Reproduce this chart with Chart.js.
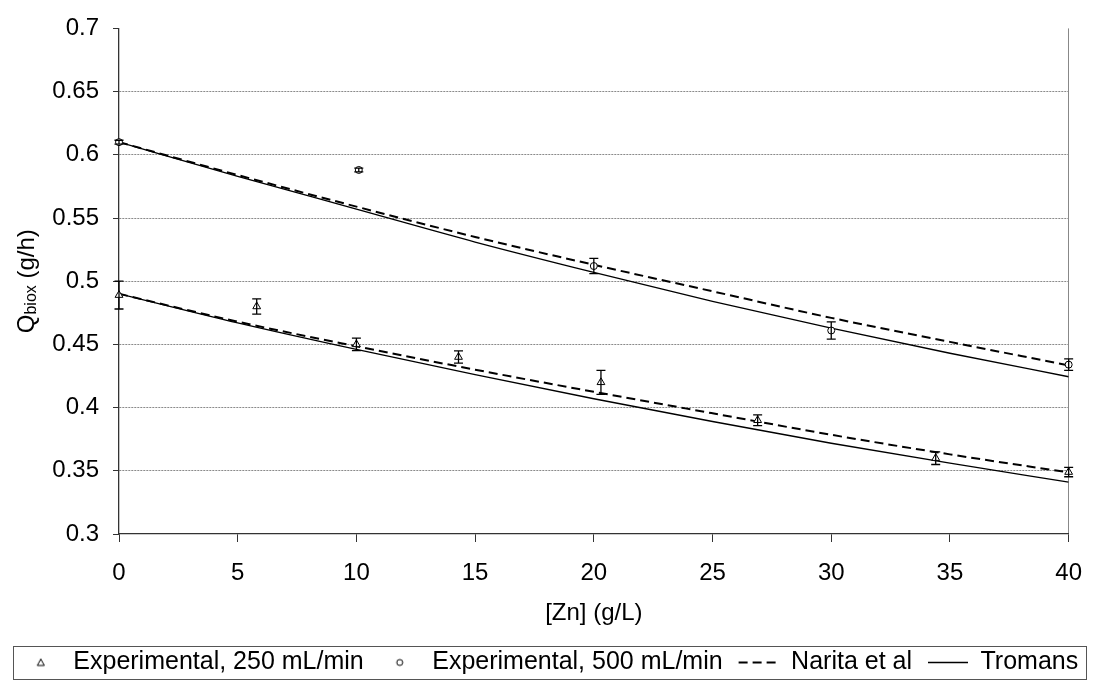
<!DOCTYPE html>
<html lang="en">
<head>
<meta charset="UTF-8">
<title>Qbiox vs [Zn]</title>
<script src="https://cdn.jsdelivr.net/npm/chart.js"></script>
<style>
  body { margin: 0; background: #fff; }
  #wrap { width: 1099px; height: 680px; }
</style>
</head>
<body>
<div id="wrap"><canvas id="znChart" width="1099" height="680"></canvas></div>
<script>
// model curves
const znLine = [0, 5, 10, 15, 20, 25, 30, 35, 40];
const naritaHigh = [0.61, 0.584, 0.559, 0.535, 0.513, 0.492, 0.471, 0.452, 0.4334];
const tromansHigh = [0.61, 0.583, 0.557, 0.531, 0.507, 0.484, 0.4628, 0.443, 0.4244];
const naritaLow = [0.49, 0.468, 0.4485, 0.430, 0.4125, 0.3955, 0.3785, 0.363, 0.3487];
const tromansLow = [0.49, 0.467, 0.446, 0.426, 0.407, 0.389, 0.3718, 0.356, 0.341];

// experimental points
const zn250 = [0, 5.8, 10, 14.3, 20.3, 26.9, 34.4, 40];
const q250 = [0.489, 0.48, 0.45, 0.44, 0.42, 0.39, 0.36, 0.349];
const err250 = [0.011, 0.006, 0.005, 0.0048, 0.0095, 0.0042, 0.005, 0.0037];
const zn500 = [0, 10.1, 20, 30, 40];
const q500 = [0.61, 0.588, 0.512, 0.461, 0.434];
const err500 = [0.0015, 0.0015, 0.006, 0.0068, 0.0046];

const FONT = '"Liberation Sans", Arial, sans-serif';
Chart.defaults.font.family = FONT;
Chart.defaults.color = '#000';

const pts = (xs, ys) => xs.map((v, i) => ({ x: v, y: ys[i] }));

// small marker icons for the legend (so the line samples can be wider)
function legendIcon(kind) {
  const c = document.createElement('canvas');
  c.width = 10; c.height = 10;
  const g = c.getContext('2d');
  g.strokeStyle = '#000';
  g.lineWidth = 1;
  g.beginPath();
  if (kind === 'triangle') {
    g.moveTo(5, 1.5); g.lineTo(8.5, 8); g.lineTo(1.5, 8); g.closePath();
  } else {
    g.arc(5, 5, 3, 0, Math.PI * 2);
  }
  g.stroke();
  return c;
}

const errorBars = {
  id: 'errorBars',
  afterDatasetsDraw(chart) {
    const { ctx, scales: { x, y } } = chart;
    ctx.save();
    ctx.strokeStyle = '#000';
    ctx.lineWidth = 1.3;
    [[zn250, q250, err250], [zn500, q500, err500]].forEach(([xs, ys, es]) => {
      xs.forEach((v, i) => {
        const px = x.getPixelForValue(v);
        const top = y.getPixelForValue(ys[i] + es[i]);
        const bot = y.getPixelForValue(ys[i] - es[i]);
        ctx.beginPath();
        ctx.moveTo(px, top); ctx.lineTo(px, bot);
        ctx.moveTo(px - 4.5, top); ctx.lineTo(px + 4.5, top);
        ctx.moveTo(px - 4.5, bot); ctx.lineTo(px + 4.5, bot);
        ctx.stroke();
      });
    });
    ctx.restore();
  }
};

// y title with subscript
const yTitle = {
  id: 'yTitle',
  afterDraw(chart) {
    const { ctx, chartArea } = chart;
    const cy = (chartArea.top + chartArea.bottom) / 2;
    const big = '24px ' + FONT, small = '16px ' + FONT;
    ctx.save();
    ctx.translate(27, cy);
    ctx.rotate(-Math.PI / 2);
    ctx.fillStyle = '#000';
    ctx.textBaseline = 'middle';
    ctx.font = big;
    const wQ = ctx.measureText('Q').width;
    const wU = ctx.measureText(' (g/h)').width;
    ctx.font = small;
    const wS = ctx.measureText('biox').width;
    const x0 = -(wQ + wS + wU) / 2;
    ctx.font = big; ctx.fillText('Q', x0, 0);
    ctx.font = small; ctx.fillText('biox', x0 + wQ, 5);
    ctx.font = big; ctx.fillText(' (g/h)', x0 + wQ + wS, 0);
    ctx.restore();
  }
};

// frame round the legend
const legendFrame = {
  id: 'legendFrame',
  afterDraw(chart) {
    const boxes = chart.legend.legendHitBoxes;
    if (!boxes || !boxes.length) return;
    const first = boxes[0], last = boxes[boxes.length - 1];
    const cy = first.top + first.height / 2;
    const left = first.left - 8, right = last.left + last.width + 8;
    const { ctx } = chart;
    ctx.save();
    ctx.strokeStyle = '#555';
    ctx.lineWidth = 1;
    ctx.strokeRect(Math.round(left) + 0.5, Math.round(cy - 16.5) + 0.5, Math.round(right - left), 33);
    ctx.restore();
  }
};

new Chart(document.getElementById('znChart'), {
  type: 'scatter',
  data: {
    datasets: [
      { label: 'Experimental, 250 mL/min', data: pts(zn250, q250), pointStyle: 'triangle',
        pointRadius: 4.5, borderColor: '#000', backgroundColor: '#fff', borderWidth: 1, clip: false,
        legendIcon: legendIcon('triangle') },
      { label: 'Experimental, 500 mL/min', data: pts(zn500, q500), pointStyle: 'circle',
        pointRadius: 3.5, borderColor: '#000', backgroundColor: '#fff', borderWidth: 1, clip: false,
        legendIcon: legendIcon('circle') },
      { label: 'Narita et al', data: pts(znLine, naritaHigh), showLine: true, pointRadius: 0,
        pointStyle: 'line', borderColor: '#000', borderWidth: 2, borderDash: [9, 5],
        cubicInterpolationMode: 'monotone' },
      { label: 'Tromans', data: pts(znLine, tromansHigh), showLine: true, pointRadius: 0,
        pointStyle: 'line', borderColor: '#000', borderWidth: 1.3, cubicInterpolationMode: 'monotone' },
      { label: 'Narita et al', data: pts(znLine, naritaLow), showLine: true, pointRadius: 0,
        pointStyle: 'line', borderColor: '#000', borderWidth: 2, borderDash: [9, 5],
        cubicInterpolationMode: 'monotone', hideLegend: true },
      { label: 'Tromans', data: pts(znLine, tromansLow), showLine: true, pointRadius: 0,
        pointStyle: 'line', borderColor: '#000', borderWidth: 1.3,
        cubicInterpolationMode: 'monotone', hideLegend: true }
    ]
  },
  options: {
    responsive: false,
    animation: false,
    layout: { padding: { top: 24, right: 0, bottom: 0, left: 0 } },
    plugins: {
      tooltip: { enabled: false },
      legend: {
        position: 'bottom',
        maxHeight: 46,
        labels: {
          usePointStyle: true,
          pointStyleWidth: 40,
          boxHeight: 6,
          padding: 16,
          color: '#000',
          font: { size: 25 },
          generateLabels: chart => {
            const items = Chart.defaults.plugins.legend.labels.generateLabels(chart);
            items.forEach(it => {
              const ds = chart.data.datasets[it.datasetIndex];
              it.lineDash = ds.borderDash || [];
              it.lineWidth = ds.borderWidth;
              if (ds.legendIcon) it.pointStyle = ds.legendIcon;
            });
            return items;
          },
          filter: (item, data) => !data.datasets[item.datasetIndex].hideLegend
        }
      }
    },
    scales: {
      x: {
        type: 'linear', min: 0, max: 40,
        afterFit: s => { s.height = 100; },
        ticks: { stepSize: 5, padding: 17, font: { size: 24 }, color: '#000', maxRotation: 0 },
        grid: {
          drawOnChartArea: true, tickLength: 8, tickColor: '#333',
          color: c => (c.tick && c.tick.value === 40) ? '#888' : 'rgba(0,0,0,0)'
        },
        border: { color: '#333', width: 1.3 },
        title: { display: true, text: '[Zn] (g/L)', font: { size: 24 }, color: '#000', padding: { top: 0, bottom: 6 } }
      },
      y: {
        min: 0.3, max: 0.7,
        afterFit: s => { s.width = 119; },
        ticks: { stepSize: 0.05, padding: 14, font: { size: 24 }, color: '#000',
          callback: v => String(+v.toFixed(2)) },
        grid: {
          tickLength: 6, tickColor: '#333', tickBorderDash: [],
          color: c => {
            const v = c.tick ? c.tick.value : 0;
            return (Math.abs(v - 0.7) < 1e-6 || Math.abs(v - 0.3) < 1e-6) ? 'rgba(0,0,0,0)' : '#8a8a8a';
          }
        },
        border: { color: '#333', width: 1.3, dash: [2, 1] }
      },
      // empty right-hand strip so the plot ends at the same place while the legend keeps full width
      yRight: {
        position: 'right', min: 0.3, max: 0.7,
        afterFit: s => { s.width = 18; },
        ticks: { display: false },
        grid: { display: false },
        border: { display: false }
      }
    }
  },
  plugins: [errorBars, yTitle, legendFrame]
});
</script>
</body>
</html>
